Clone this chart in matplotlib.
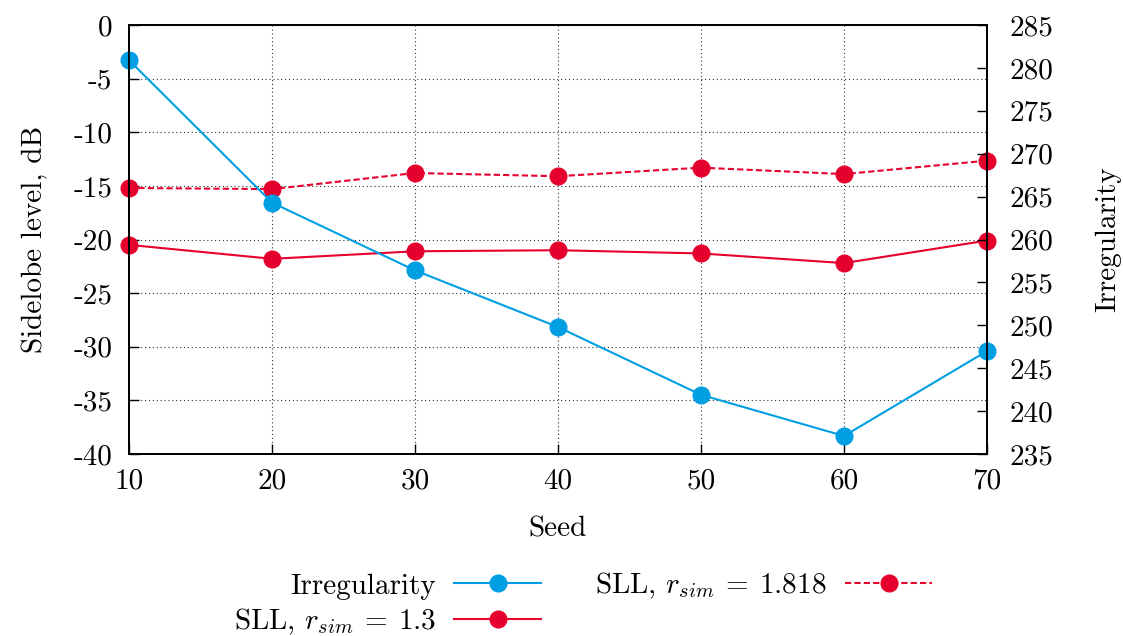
import matplotlib
matplotlib.use("Agg")
import matplotlib.pyplot as plt

# -- Data
SEEDS = [10, 20, 30, 40, 50, 60, 70]
IRREGULARITY = [280.9, 264.3, 256.4, 249.8, 241.9, 237.1, 247.0]
SLL_13 = [-20.5, -21.8, -21.1, -21.0, -21.3, -22.2, -20.1]
SLL_1818 = [-15.2, -15.3, -13.8, -14.1, -13.3, -13.9, -12.65]

X_TICKS = [10, 20, 30, 40, 50, 60, 70]
Y_TICKS = [-40, -35, -30, -25, -20, -15, -10, -5, 0]
Y2_TICKS = [235, 240, 245, 250, 255, 260, 265, 270, 275, 280, 285]

BLUE = "#009FE3"
RED = "#E6002D"
FS = 21

plt.rcParams["font.family"] = "cmr10"
plt.rcParams["mathtext.fontset"] = "cm"
plt.rcParams["font.size"] = FS
plt.rcParams["axes.unicode_minus"] = False

W, H = 1123, 636
fig = plt.figure(figsize=(W / 100, H / 100), dpi=100)
ax = fig.add_axes([129 / W, 1 - 454 / H, (987 - 129) / W, (454 - 25) / H])
ax2 = ax.twinx()

# -- Lines
style = dict(lw=1.5, marker="o", ms=12, clip_on=False)
l_irr, = ax2.plot(SEEDS, IRREGULARITY, color=BLUE, label="Irregularity", **style)
l_13, = ax.plot(SEEDS, SLL_13, color=RED, label=r"SLL, $r_{sim}\:=\:1.3$", **style)
l_18, = ax.plot(SEEDS, SLL_1818, color=RED, ls=(0, (3, 1.5)),
                label=r"SLL, $r_{sim}\:=\:1.818$", **style)

# -- Axes
ax.set_xlim(10, 70)
ax.set_ylim(-40, 0)
ax2.set_ylim(235, 285)
ax.set_xticks(X_TICKS)
ax.set_xticklabels([str(v) for v in X_TICKS])
ax.set_yticks(Y_TICKS)
ax.set_yticklabels([str(v) for v in Y_TICKS])
ax2.set_yticks(Y2_TICKS)
ax2.set_yticklabels([str(v) for v in Y2_TICKS])

ax.tick_params(axis="x", direction="in", length=7, width=1, pad=10)
ax.tick_params(axis="y", direction="in", length=7, width=1, pad=12, right=False)
ax2.tick_params(axis="y", direction="in", length=7, width=1, pad=16)
for a in (ax, ax2):
    for s in a.spines.values():
        s.set_linewidth(1.3)

ax.grid(True, color="black", ls=(0, (1, 2.5)), lw=0.8, alpha=0.8)
ax.set_axisbelow(True)

ax.set_xlabel("Seed", labelpad=16)
ax.set_ylabel("Sidelobe level, dB", labelpad=18)
ax2.set_ylabel("Irregularity", labelpad=30)

# -- Legend
fig.legend(handles=[l_irr, l_13, l_18], ncol=2, frameon=False, markerfirst=False,
           loc="center", bbox_to_anchor=(583 / W, 1 - 604 / H),
           handlelength=3.0, handletextpad=0.62, columnspacing=1.85,
           labelspacing=0.25, borderpad=0, fontsize=FS)

fig.savefig("out.png", dpi=100)
